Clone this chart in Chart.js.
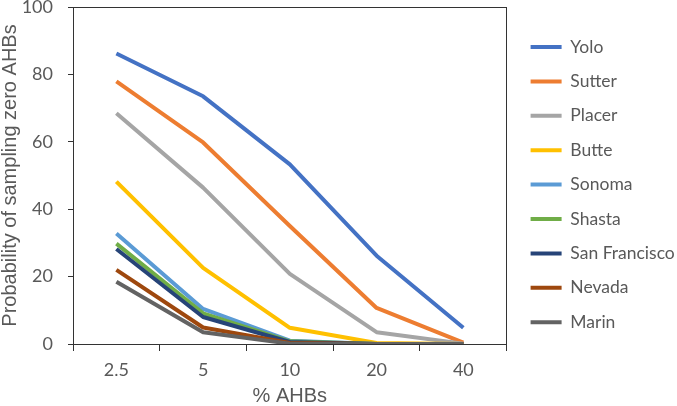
<!DOCTYPE html>
<html>
<head>
<meta charset="utf-8">
<script src="https://cdn.jsdelivr.net/npm/chart.js@4/dist/chart.umd.min.js"></script>
<style>
  html, body { margin: 0; padding: 0; background: #fff; }
  #wrap { width: 677px; height: 406px; }
</style>
</head>
<body>
<div id="wrap"><canvas id="chart"></canvas></div>
<script>
// % AHBs categories and probability of sampling zero AHBs per county
const categories = ['2.5', '5', '10', '20', '40'];
const counties = ['Yolo', 'Sutter', 'Placer', 'Butte', 'Sonoma', 'Shasta', 'San Francisco', 'Nevada', 'Marin'];
const yolo = [86.2, 73.5, 53.3, 26.2, 4.8];
const sutter = [77.9, 59.8, 35.0, 10.7, 0.4];
const placer = [68.5, 46.4, 20.8, 3.5, 0.1];
const butte = [48.2, 22.6, 4.8, 0.3, 0];
const sonoma = [32.8, 10.4, 1.0, 0, 0];
const shasta = [29.8, 9.1, 0.8, 0, 0];
const sanFrancisco = [28.2, 8.0, 0.6, 0, 0];
const nevada = [22.0, 4.9, 0.3, 0, 0];
const marin = [18.5, 3.5, 0.1, 0, 0];
const yTicks = [0, 20, 40, 60, 80, 100];

const seriesValues = [yolo, sutter, placer, butte, sonoma, shasta, sanFrancisco, nevada, marin];
const colors = ['#4472C4', '#ED7D31', '#A5A5A5', '#FFC000', '#5B9BD5', '#70AD47', '#264478', '#9E480E', '#636363'];

const textGray = '#595959';
const axisColor = '#333333';

document.addEventListener('DOMContentLoaded', () => {
    const ctx = document.getElementById('chart').getContext('2d');
    new Chart(ctx, {
        type: 'line',
        data: {
            labels: categories,
            datasets: counties.map((name, i) => ({
                label: name,
                data: seriesValues[i],
                borderColor: colors[i],
                backgroundColor: colors[i],
                borderWidth: 4,
                pointRadius: 0,
                tension: 0,
                fill: false,
                borderJoinStyle: 'round',
                order: counties.length - i   // later series drawn on top, like the original
            }))
        },
        options: {
            responsive: true,
            maintainAspectRatio: false,
            animation: false,
            layout: { padding: { top: 7, right: -7.75, bottom: 0, left: 0 } },
            plugins: {
                tooltip: { enabled: false },
                legend: {
                    position: 'right',
                    align: 'start',
                    maxWidth: 260,
                    title: {
                        display: true,
                        text: ' ',
                        font: { size: 10, lineHeight: 1 },
                        padding: { top: 0, bottom: 4.35 }
                    },
                    labels: {
                        usePointStyle: true,
                        pointStyle: 'line',
                        pointStyleWidth: 31,
                        padding: 16.9,
                        color: textGray,
                        font: { family: 'Lato', size: 17.5 },
                        sort: (a, b) => a.datasetIndex - b.datasetIndex
                    }
                }
            },
            scales: {
                x: {
                    type: 'category',
                    offset: true,
                    grid: {
                        offset: true,
                        drawOnChartArea: false,
                        drawTicks: true,
                        tickLength: 7,
                        color: axisColor
                    },
                    border: { display: true, color: axisColor, width: 1 },
                    ticks: {
                        color: textGray,
                        padding: 8,
                        font: { family: 'Lato', size: 18 },
                        maxRotation: 0
                    },
                    title: {
                        display: true,
                        text: '% AHBs',
                        color: textGray,
                        font: { family: 'Liberation Sans', size: 20, lineHeight: 1 },
                        padding: { top: 0, bottom: 0 }
                    },
                    afterFit: (scale) => { scale.height = 62; }
                },
                x2: {
                    type: 'category',
                    position: 'top',
                    offset: true,
                    grid: { display: false },
                    border: { display: true, color: axisColor, width: 1 },
                    ticks: { display: false },
                    afterFit: (scale) => { scale.height = 0; }
                },
                y: {
                    min: yTicks[0],
                    max: yTicks[yTicks.length - 1],
                    afterBuildTicks: (scale) => { scale.ticks = yTicks.map(v => ({ value: v })); },
                    grid: {
                        drawOnChartArea: false,
                        drawTicks: true,
                        tickLength: 5,
                        color: axisColor
                    },
                    border: { display: true, color: axisColor, width: 1 },
                    ticks: {
                        color: textGray,
                        padding: 15,
                        font: { family: 'Lato', size: 18 }
                    },
                    title: {
                        display: true,
                        text: 'Probability of sampling zero AHBs',
                        color: textGray,
                        font: { family: 'Liberation Sans', size: 20, lineHeight: 1 },
                        padding: { top: 0, bottom: 0 }
                    },
                    afterFit: (scale) => {
                        scale.width = 73;
                        scale.paddingTop = 0;
                        scale.paddingBottom = 0;
                    }
                },
                y2: {
                    position: 'right',
                    min: 0,
                    max: 100,
                    grid: { display: false },
                    border: { display: true, color: axisColor, width: 1 },
                    ticks: { display: false },
                    afterFit: (scale) => { scale.width = 7; }
                }
            }
        }
    });
});
</script>
</body>
</html>
